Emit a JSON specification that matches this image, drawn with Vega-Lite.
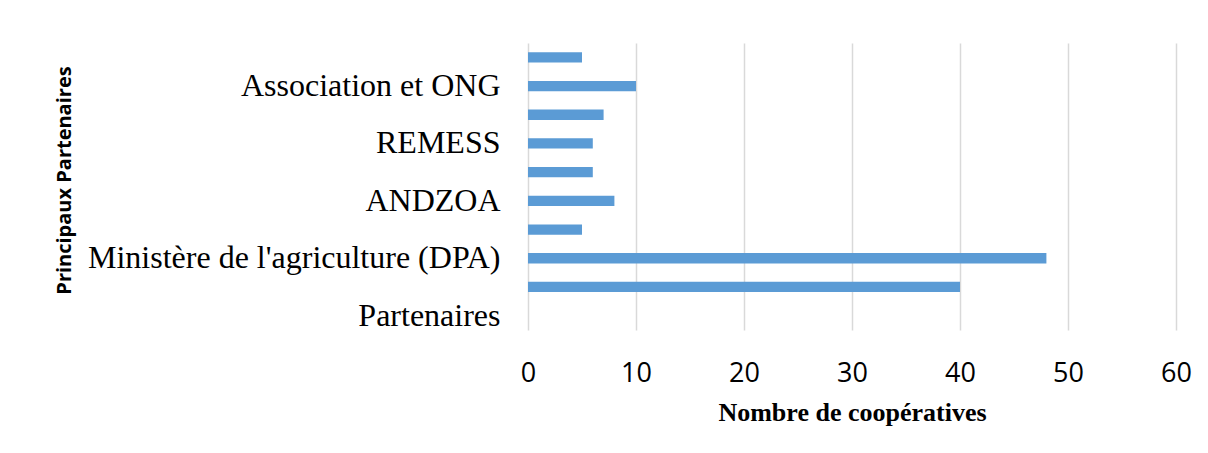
{
  "$schema": "https://vega.github.io/schema/vega-lite/v6.json",
  "autosize": {"type": "none"},
  "width": 648,
  "height": 287,
  "padding": {"left": 528, "top": 43, "right": 32, "bottom": 123},
  "background": "white",
  "data": {
    "values": [
      {"partenaire": "Non affiché 1", "cooperatives": 5},
      {"partenaire": "Association et ONG", "cooperatives": 10},
      {"partenaire": "Non affiché 2", "cooperatives": 7},
      {"partenaire": "REMESS", "cooperatives": 6},
      {"partenaire": "Non affiché 3", "cooperatives": 6},
      {"partenaire": "ANDZOA", "cooperatives": 8},
      {"partenaire": "Non affiché 4", "cooperatives": 5},
      {"partenaire": "Ministère de l'agriculture (DPA)", "cooperatives": 48},
      {"partenaire": "Non affiché 5", "cooperatives": 40},
      {"partenaire": "Partenaires", "cooperatives": null}
    ]
  },
  "mark": {"type": "bar", "color": "#5B9BD5"},
  "encoding": {
    "y": {
      "field": "partenaire",
      "type": "nominal",
      "scale": {
        "domain": ["Non affiché 1", "Association et ONG", "Non affiché 2", "REMESS", "Non affiché 3", "ANDZOA", "Non affiché 4", "Ministère de l'agriculture (DPA)", "Non affiché 5", "Partenaires"],
        "paddingInner": 0.64,
        "paddingOuter": 0.32
      },
      "axis": {
        "values": ["Association et ONG", "REMESS", "ANDZOA", "Ministère de l'agriculture (DPA)", "Partenaires"],
        "labelExpr": "datum.value == 'Partenaires' || datum.value == 'Association et ONG' ? datum.value + '\u00a0\u00a0' : datum.value",
        "title": "Principaux Partenaires",
        "titleFont": "Open Sans",
        "titleFontWeight": "bold",
        "titleFontSize": 20,
        "titleColor": "#000000",
        "titleX": -464,
        "titleY": 137,
        "titleAngle": -90,
        "titleBaseline": "middle",
        "titleAlign": "center",
        "labelFont": "Liberation Serif",
        "labelFontSize": 32,
        "labelColor": "#000000",
        "labelPadding": 28,
        "labelLimit": 600,
        "ticks": false,
        "domain": false,
        "grid": false
      }
    },
    "x": {
      "field": "cooperatives",
      "type": "quantitative",
      "scale": {"domain": [0, 60], "nice": false},
      "axis": {
        "values": [0, 10, 20, 30, 40, 50, 60],
        "title": "Nombre de coopératives",
        "titleFont": "Liberation Serif",
        "titleFontWeight": "bold",
        "titleFontSize": 26,
        "titleColor": "#000000",
        "titlePadding": 13,
        "labelFont": "Open Sans",
        "labelFontSize": 27,
        "labelColor": "#000000",
        "labelPadding": 30,
        "labelFlush": false,
        "ticks": false,
        "domain": false,
        "grid": true,
        "gridColor": "#D9D9D9",
        "gridWidth": 1.5
      }
    }
  },
  "config": {"view": {"stroke": null}}
}
